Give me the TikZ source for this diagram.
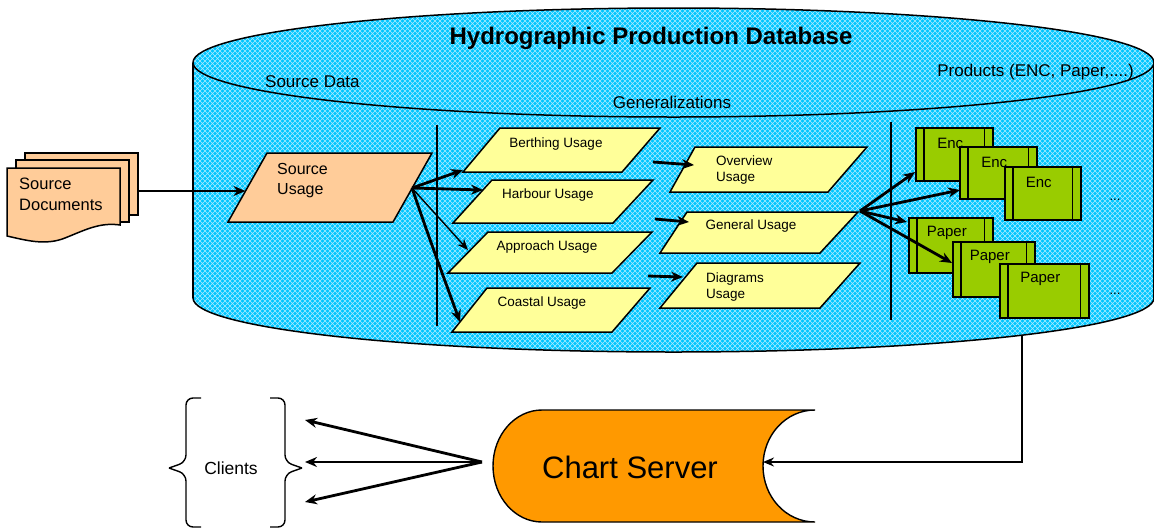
\documentclass[tikz,border=0pt]{standalone}
\usepackage{fontspec}
\setmainfont{Liberation Sans}
\usetikzlibrary{arrows.meta,patterns.meta}

\definecolor{dbblue}{RGB}{0,198,255}
\definecolor{dbgridcol}{RGB}{170,236,255}
\definecolor{peach}{RGB}{255,204,153}
\definecolor{usageyellow}{RGB}{255,255,153}
\definecolor{prodgreen}{RGB}{153,204,0}
\definecolor{serverorange}{RGB}{255,153,0}

% fine diagonal grid laid over the database body
\tikzdeclarepattern{
  name=dbgrid, type=uncolored,
  bottom left={(-.5pt,-.5pt)}, top right={(5.5pt,5.5pt)},
  tile size={(5pt,5pt)},
  code={\draw[line width=.6pt] (0pt,0pt) -- (5pt,5pt) (0pt,5pt) -- (5pt,0pt);}
}

\tikzset{
  dbfill/.style={fill=dbblue, postaction={pattern=dbgrid, pattern color=dbgridcol}},
  outline/.style={draw=black, line width=1.5pt},
  usage/.style={draw=black, line width=1.5pt, fill=usageyellow, line join=miter},
  srcshape/.style={draw=black, line width=1.5pt, fill=peach},
  prodbox/.style={draw=black, line width=1.6pt, fill=prodgreen, inner sep=0pt},
  prodrule/.style={draw=black, line width=1.6pt},
  prodlabel/.style={font=\fontsize{15}{18}\selectfont, inner sep=0pt},
  boxlabel/.style={font=\fontsize{13.5}{16.5}\selectfont, inner sep=0pt, align=left},
  dblabel/.style={font=\fontsize{17}{20}\selectfont, inner sep=0pt},
  fat/.style={line width=2.8pt, -{Stealth[length=12pt,width=10pt]}},
  slim/.style={line width=1.4pt, -{Stealth[length=11pt,width=9pt]}},
  feed/.style={line width=1.5pt, -{Stealth[length=11pt,width=9pt]}},
  divider/.style={line width=1.1pt},
  brace/.style={line width=1.4pt, rounded corners=7pt},
}

% green product card with two inner rules and a label near its top
\newcommand\prodcard[6]{%
  \node[prodbox, minimum width=#4pt, minimum height=#5pt, anchor=north west] (#1) at (#2,#3) {};
  \draw[prodrule] ([xshift=9pt]#1.north west) -- ([xshift=9pt]#1.south west)
                  ([xshift=-9pt]#1.north east) -- ([xshift=-9pt]#1.south east);
  \node[prodlabel] (#1-label) at ([shift={(-4,16)}]#1.north) {#6};
}

\begin{document}
\begin{tikzpicture}[x=1pt,y=-1pt]
\useasboundingbox (0,0) rectangle (1154,531);

% ---------------- database cylinder ----------------
\path[dbfill] (193,62.5) rectangle (1153.5,298);
\path[dbfill] (673.5,298) ellipse [x radius=480.5, y radius=54];
\path[dbfill] (673.5,62.5) ellipse [x radius=480.5, y radius=54.5];
\draw[outline] (673.5,62.5) ellipse [x radius=480.5, y radius=54.5];
\draw[outline] (193,62.5) -- (193,298);
\draw[outline] (1153.5,62.5) -- (1153.5,298);
\begin{scope}
  \clip (0,298) rectangle (1154,531);
  \draw[outline] (673.5,298) ellipse [x radius=480.5, y radius=54];
\end{scope}

\node[font=\fontsize{24}{28}\selectfont\bfseries, inner sep=0pt] (title) at (651,38) {Hydrographic Production Database};
\node[dblabel, anchor=west] (srcdata) at (265,82) {Source Data};
\node[dblabel] (gen) at (672,102) {Generalizations};
\node[dblabel, anchor=east] (products) at (1134,72) {Products (ENC, Paper,....)};

\draw[divider] (437,125) -- (437,326);
\draw[divider] (891,122) -- (891,320);

% ---------------- source documents ----------------
\draw[srcshape] (25,153) rectangle (138,215);
\draw[srcshape] (16,160) rectangle (129,222);
\draw[srcshape] (7,168) -- (120,168) -- (120,225)
   .. controls (100,222) and (85,230) .. (65,238)
   .. controls (45,246) and (25,240) .. (7,236) -- cycle;
\node[font=\fontsize{16.5}{21}\selectfont, inner sep=0pt, align=left, anchor=west] (docs) at (19,194) {Source\\Documents};
\coordinate (docs-out) at (138,191);

% ---------------- source usage ----------------
\draw[srcshape, line join=miter] (228,222) -- (267,153) -- (432,153) -- (393,222) -- cycle;
\node[font=\fontsize{16}{20}\selectfont, inner sep=0pt, align=left, anchor=west] (srcusage) at (277,181) {Source\\Usage};
\coordinate (su-in) at (245.5,191);
\coordinate (su-out) at (412,188);

% ---------------- generalized usages ----------------
\draw[usage] (463,172) -- (500,128) -- (660,128) -- (622,172) -- cycle;
\node[boxlabel] (berthing) at (556,144) {Berthing Usage};
\draw[usage] (453,223) -- (492,180) -- (653,180) -- (613,223) -- cycle;
\node[boxlabel] (harbour) at (548,195) {Harbour Usage};
\draw[usage] (448,273) -- (488,232) -- (652,232) -- (612,273) -- cycle;
\node[boxlabel] (approach) at (547,247) {Approach Usage};
\draw[usage] (452,332) -- (487,288) -- (650,288) -- (612,332) -- cycle;
\node[boxlabel] (coastal) at (542,303) {Coastal Usage};

\draw[usage] (670,192) -- (695,147) -- (867,147) -- (828,192) -- cycle;
\node[boxlabel, anchor=west] (overview) at (716,170) {Overview\\Usage};
\draw[usage] (660,253) -- (687,212) -- (858,212) -- (820,253) -- cycle;
\node[boxlabel] (general) at (751,226) {General Usage};
\draw[usage] (660,308) -- (697,263) -- (860,263) -- (820,308) -- cycle;
\node[boxlabel, anchor=west] (diagrams) at (706,287) {Diagrams\\Usage};

\coordinate (berthing-in) at (463,170);
\coordinate (harbour-in) at (483,190);
\coordinate (approach-in) at (468,250);
\coordinate (coastal-in) at (460,322);
\coordinate (general-out) at (860,211);

\coordinate (step1-from) at (653,162);
\coordinate (step1-to) at (694,165);
\coordinate (step2-from) at (655,219);
\coordinate (step2-to) at (689,222);
\coordinate (step3-from) at (648,276);
\coordinate (step3-to) at (683,277);

% ---------------- products ----------------
\prodcard{enc1}{915}{127}{77}{53}{Enc}
\prodcard{enc2}{959}{146}{77}{52}{Enc}
\prodcard{enc3}{1004}{166}{76}{53}{Enc}
\prodcard{paper1}{908}{217}{84}{55}{Paper}
\prodcard{paper2}{952}{241}{82}{55}{Paper}
\prodcard{paper3}{999}{263}{89}{54}{Paper}
\node[font=\fontsize{13}{15}\selectfont, inner sep=0pt] (more-enc) at (1115,200) {...};
\node[font=\fontsize{13}{15}\selectfont, inner sep=0pt] (more-paper) at (1115,294) {...};

\coordinate (enc1-in) at (915,172);
\coordinate (enc2-in) at (960,190);
\coordinate (paper1-in) at (907,222);
\coordinate (paper2-in) at (952,263);

% ---------------- connectors inside the database ----------------
\draw[fat] (docs-out) -- (su-in);
\draw[fat] (su-out) -- (berthing-in);
\draw[fat] (su-out) -- (harbour-in);
\draw[slim] (su-out) -- (approach-in);
\draw[fat] (su-out) .. controls (430,240) .. (coastal-in);
\draw[fat] (step1-from) -- (step1-to);
\draw[fat] (step2-from) -- (step2-to);
\draw[fat] (step3-from) -- (step3-to);
\draw[fat] (general-out) -- (enc1-in);
\draw[fat] (general-out) -- (enc2-in);
\draw[fat] (general-out) -- (paper1-in);
\draw[fat] (general-out) -- (paper2-in);

% ---------------- chart server ----------------
\draw[draw=black, line width=1.4pt, fill=serverorange]
  (542,410) -- (815,410)
  .. controls (786,410) and (763,435) .. (763,466)
  .. controls (763,497) and (786,522) .. (815,522)
  -- (542,522)
  .. controls (515,522) and (493,497) .. (493,466)
  .. controls (493,435) and (515,410) .. (542,410) -- cycle;
\node[font=\fontsize{31}{36}\selectfont, inner sep=0pt] (server) at (630,467) {Chart Server};
\coordinate (srv-in) at (763,462);
\coordinate (srv-out) at (482,462);
\coordinate (db-out) at (1022,335);
\draw[feed] (db-out) |- (srv-in);

% ---------------- clients ----------------
\node[font=\fontsize{17.5}{21}\selectfont, inner sep=0pt] (clients) at (231,468) {Clients};
\draw[brace] (201,398) -- (186,398) -- (186,462) -- (169,468);
\draw[brace] (169,468) -- (186,474) -- (186,527) -- (201,527);
\draw[brace] (270,398) -- (285,398) -- (285,462) -- (302,468);
\draw[brace] (302,468) -- (285,474) -- (285,527) -- (270,527);
\coordinate (cl-top) at (305,420);
\coordinate (cl-mid) at (305,462);
\coordinate (cl-bot) at (305,502);
\draw[fat] (srv-out) -- (cl-top);
\draw[fat] (srv-out) -- (cl-mid);
\draw[fat] (srv-out) -- (cl-bot);
\end{tikzpicture}
\end{document}
